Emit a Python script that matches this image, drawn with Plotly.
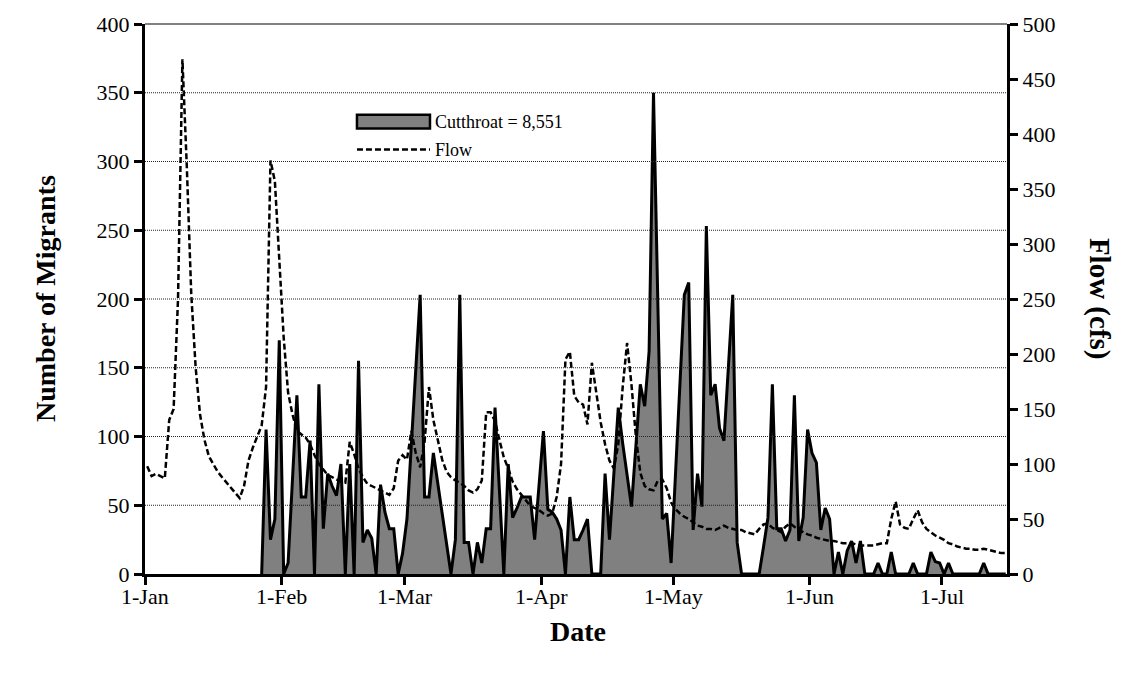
import pandas as pd
import plotly.graph_objects as go

# Daily cutthroat migrant estimates, starting 27 January
cutthroat_start = "2009-01-27"
cutthroat = [
    0, 105, 25, 40, 170, 0, 8, 65, 130, 56, 56, 97, 0, 138, 33, 73, 64, 57, 80, 0,
    80, 0, 155, 23, 32, 26, 0, 65, 45, 33, 33, 0, 15, 40, 95, 150, 203, 56, 56, 88,
    66, 44, 22, 0, 25, 203, 23, 23, 0, 23, 8, 33, 33, 121, 61, 0, 80, 41, 48, 56,
    56, 56, 25, 65, 104, 47, 45, 40, 32, 0, 56, 25, 25, 32, 40, 0, 0, 0, 73, 25,
    73, 121, 95, 70, 49, 93, 138, 122, 162, 350, 195, 40, 44, 8, 73, 138, 203, 212, 32, 73,
    49, 253, 130, 138, 106, 97, 150, 203, 23, 0, 0, 0, 0, 0, 20, 41, 138, 33, 33, 24,
    32, 130, 24, 41, 105, 88, 81, 32, 48, 40, 0, 16, 0, 17, 24, 8, 24, 0, 0, 0,
    8, 0, 0, 16, 0, 0, 0, 0, 8, 0, 0, 0, 16, 9, 8, 0, 8, 0, 0, 0,
    0, 0, 0, 0, 8, 0, 0, 0, 0, 0,
]

# Daily mean stream flow (cfs), starting 1 January
flow_start = "2009-01-01"
flow = [
    98, 89, 91, 89, 87, 140, 150, 250, 468, 370, 255, 188, 145, 122, 107, 100, 93, 88, 83, 78,
    74, 69, 80, 103, 115, 125, 135, 170, 376, 357, 280, 215, 165, 145, 130, 127, 124, 118, 108, 100,
    95, 90, 88, 86, 84, 83, 120, 109, 96, 88, 82, 80, 78, 76, 74, 72, 78, 103, 108, 104,
    130, 110, 97, 120, 170, 140, 122, 104, 93, 88, 85, 83, 80, 76, 74, 77, 85, 147, 147, 139,
    122, 106, 96, 84, 77, 72, 66, 62, 60, 58, 55, 53, 55, 70, 100, 195, 202, 162, 156, 154,
    136, 192, 165, 138, 118, 103, 96, 118, 170, 210, 172, 125, 92, 80, 77, 76, 85, 86, 78, 65,
    59, 55, 52, 50, 47, 44, 43, 41, 41, 40, 42, 44, 42, 41, 40, 40, 38, 37, 36, 41,
    45, 46, 42, 40, 38, 43, 46, 43, 40, 38, 36, 35, 33, 32, 31, 30, 30, 29, 28, 28,
    28, 27, 26, 26, 26, 26, 27, 28, 28, 50, 66, 45, 42, 41, 50, 58, 47, 41, 38, 35,
    33, 31, 28, 27, 25, 24, 23, 23, 22, 22, 23, 22, 21, 20, 19, 19,
]

month_ticks = ["2009-01-01", "2009-02-01", "2009-03-01", "2009-04-01",
               "2009-05-01", "2009-06-01", "2009-07-01"]
month_labels = ["1-Jan", "1-Feb", "1-Mar", "1-Apr", "1-May", "1-Jun", "1-Jul"]

total_label = "Cutthroat = 8,551"

# daily values sit in the middle of each day
half_day = pd.Timedelta(hours=12)
cut_dates = pd.date_range(cutthroat_start, periods=len(cutthroat), freq="D") + half_day
flow_dates = pd.date_range(flow_start, periods=len(flow), freq="D") + half_day

FONT = "Liberation Serif, Times New Roman, serif"
DASH = "6px,3px"

fig = go.Figure()
fig.add_trace(go.Scatter(
    x=cut_dates, y=cutthroat, name=total_label, mode="lines",
    fill="tozeroy", fillcolor="#808080",
    line=dict(color="black", width=3),
    yaxis="y",
))
fig.add_trace(go.Scatter(
    x=flow_dates, y=flow, name="Flow", mode="lines",
    line=dict(color="black", width=2.5, dash=DASH),
    yaxis="y2",
))

axis_style = dict(
    showline=True, linecolor="black", linewidth=3,
    ticks="outside", ticklen=8, tickwidth=3, tickcolor="black",
    showgrid=False, zeroline=False,
    tickfont=dict(family=FONT, size=22, color="black"),
)

fig.update_layout(
    width=1130, height=673,
    margin=dict(l=145, r=123, t=22, b=99),
    plot_bgcolor="white", paper_bgcolor="white",
    showlegend=False,
    font=dict(family=FONT, color="black"),
    xaxis=dict(
        type="date",
        range=["2009-01-01", "2009-07-15 19:00"],
        tickvals=month_ticks, showticklabels=False,
        **axis_style,
    ),
    yaxis=dict(range=[0, 400], tickvals=list(range(0, 401, 50)), **axis_style),
    yaxis2=dict(range=[0, 500], tickvals=list(range(0, 501, 50)),
                overlaying="y", side="right", **axis_style),
)

# dotted horizontal gridlines drawn over the filled area
shapes = []
for g in range(50, 400, 50):
    shapes.append(dict(type="line", xref="paper", x0=0, x1=1, yref="y", y0=g, y1=g,
                       layer="above", line=dict(color="#222222", width=1, dash="1px,1px")))
shapes.append(dict(type="line", xref="paper", x0=0, x1=1, yref="paper", y0=1, y1=1,
                   layer="above", line=dict(color="#808080", width=2)))

# legend keys
shapes.append(dict(type="rect", xref="paper", yref="paper",
                   x0=0.2459, x1=0.3306, y0=0.8098, y1=0.8351,
                   fillcolor="#808080", line=dict(color="black", width=2.5), layer="above"))
shapes.append(dict(type="line", xref="paper", yref="paper",
                   x0=0.2459, x1=0.3306, y0=0.7717, y1=0.7717,
                   line=dict(color="black", width=2.5, dash=DASH), layer="above"))
fig.update_layout(shapes=shapes)

annotations = [
    dict(text=total_label, x=0.3341, y=0.8225, xref="paper", yref="paper",
         xanchor="left", yanchor="middle", showarrow=False,
         font=dict(family=FONT, size=18, color="black")),
    dict(text="Flow", x=0.3341, y=0.7717, xref="paper", yref="paper",
         xanchor="left", yanchor="middle", showarrow=False,
         font=dict(family=FONT, size=18, color="black")),
    dict(text="<b>Number of Migrants</b>", x=-0.116, y=0.5, xref="paper", yref="paper",
         xanchor="center", yanchor="middle", textangle=-90, showarrow=False,
         font=dict(family=FONT, size=28, color="black")),
    dict(text="<b>Flow (cfs)</b>", x=1.108, y=0.5, xref="paper", yref="paper",
         xanchor="center", yanchor="middle", textangle=90, showarrow=False,
         font=dict(family=FONT, size=29, color="black")),
    dict(text="<b>Date</b>", x=0.502, y=-0.105, xref="paper", yref="paper",
         xanchor="center", yanchor="middle", showarrow=False,
         font=dict(family=FONT, size=28, color="black")),
]
# month labels under the date axis ticks
for tv, tl in zip(month_ticks, month_labels):
    annotations.append(dict(text=tl, x=tv, xref="x", y=-0.0417, yref="paper",
                            xanchor="center", yanchor="middle", showarrow=False,
                            font=dict(family=FONT, size=22, color="black")))
fig.update_layout(annotations=annotations)

fig.write_html("out.html")
